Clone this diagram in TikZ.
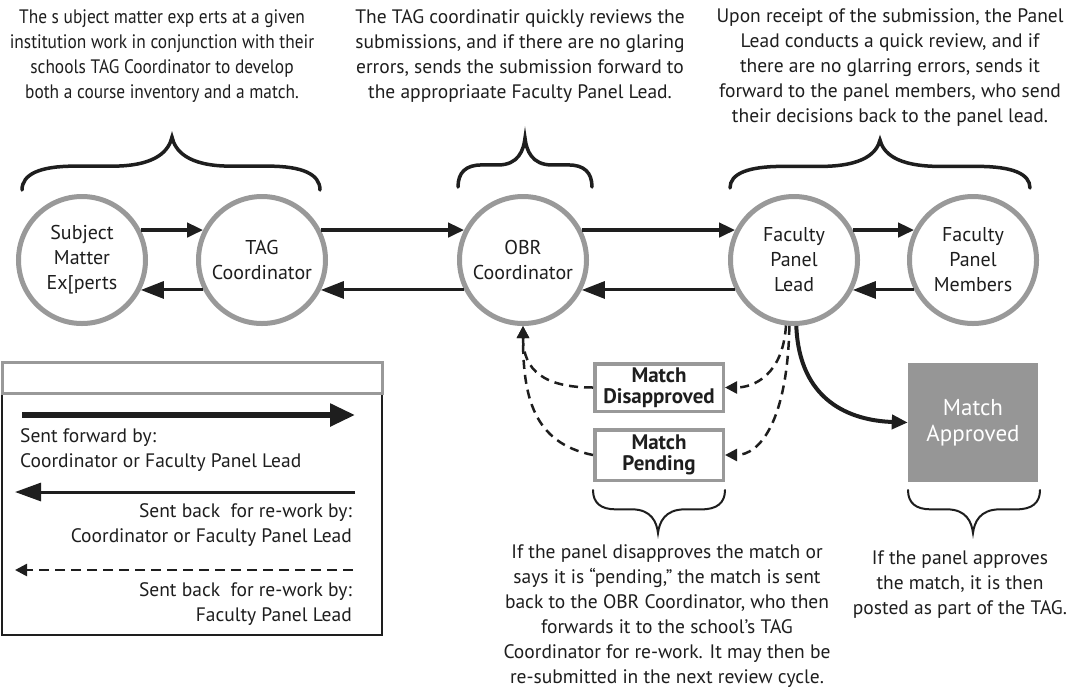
\documentclass[tikz,border=0pt]{standalone}
\usepackage{fontspec}
\setmainfont{PT Sans}
\newfontfamily\tightfont[FakeStretch=0.89]{PT Sans}
\usetikzlibrary{arrows.meta}

\definecolor{ringgray}{HTML}{999999}
\definecolor{boxgray}{HTML}{969696}
\definecolor{ink}{HTML}{1E1E1E}

% curly brace: #1 style, #2 left x, #3 tip x, #4 right x, #5 y of the ends, #6 y of the tip
\newcommand\curlybrace[6]{%
  \pgfmathsetmacro\bs{#6-#5}%
  \pgfmathsetmacro\bym{#5+0.45*\bs}%
  \pgfmathsetmacro\bwl{#3-#2}%
  \pgfmathsetmacro\bwr{#4-#3}%
  \draw[#1] (#2,#5)
    .. controls (#2,{#5+0.3*\bs}) and ({#2+0.12*\bwl},\bym) .. ({#2+0.35*\bwl},\bym)
    -- ({#3-0.4*\bwl},\bym)
    .. controls ({#3-0.1*\bwl},\bym) and ({#3-0.02*\bwl},{\bym+0.3*\bs}) .. (#3,#6)
    .. controls ({#3+0.02*\bwr},{\bym+0.3*\bs}) and ({#3+0.1*\bwr},\bym) .. ({#3+0.4*\bwr},\bym)
    -- ({#4-0.35*\bwr},\bym)
    .. controls ({#4-0.12*\bwr},\bym) and (#4,{#5+0.3*\bs}) .. (#4,#5);%
}

\tikzset{
  txt/.style={text=ink, align=center, inner sep=0pt, font=\fontsize{19.5}{25}\selectfont},
  actor/.style={circle, draw=ringgray, line width=5pt, minimum size=127pt, inner sep=0pt,
    text=ink, align=center, font=\fontsize{20}{25}\selectfont},
  result/.style={rectangle, draw=ringgray, line width=3.5pt, minimum width=128.5pt, inner sep=0pt,
    text=ink, align=center, font=\bfseries\fontsize{21}{20.5}\selectfont},
  approved/.style={rectangle, fill=boxgray, minimum width=130pt, minimum height=119pt, inner sep=0pt,
    text=white, align=center, font=\fontsize{23}{26}\selectfont},
  fwd/.style={draw=ink, line width=4.5pt, -{Triangle[length=16pt,width=14pt]}},
  back/.style={draw=ink, line width=3pt, -{Triangle[length=23pt,width=17pt]}},
  rework/.style={draw=ink, line width=2.5pt, dash pattern=on 9pt off 6pt, -{Triangle[length=12pt,width=12pt]}},
  topbrace/.style={draw=ink, line width=3.5pt, line cap=round},
  lowbrace/.style={draw=ink, line width=2pt, line cap=round},
  legendtxt/.style={text=ink, inner sep=0pt, font=\fontsize{19.5}{25}\selectfont},
}

\begin{document}
\begin{tikzpicture}[x=1pt, y=-1pt]
  \useasboundingbox (0,0) rectangle (1070,689);
  \fill[white] (0,0) rectangle (1070,689);

  % explanatory texts above the stages
  \node[txt, font=\tightfont\fontsize{19.5}{25}\selectfont] (t1) at (162,56) {The s ubject matter exp erts at a given\\institution work in conjunction with their\\schools TAG Coordinator to develop\\both a course inventory and a match.};
  \node[txt] (t2) at (520,56) {The TAG coordinatir quickly reviews the\\submissions, and if there are no glaring\\errors, sends the submission forward to\\the appropriaate Faculty Panel Lead.};
  \node[txt] (t3) at (890,68) {Upon receipt of the submission, the Panel\\Lead conducts a quick review, and if\\there are no glarring errors, sends it\\forward to the panel members, who send\\their decisions back to the panel lead.};

  % braces grouping the stages
  \curlybrace{topbrace}{22}{172}{320}{190}{137}
  \curlybrace{topbrace}{458}{525}{592}{187}{138}
  \curlybrace{topbrace}{730}{880}{1030}{188}{140}

  % actors
  \node[actor] (sme) at (82,260) {Subject\\Matter\\Ex[perts};
  \node[actor] (tag) at (262,260) {TAG\\Coordinator};
  \node[actor] (obr) at (523,260) {OBR\\Coordinator};
  \node[actor] (fpl) at (794,260) {Faculty\\Panel\\Lead};
  \node[actor] (fpm) at (973,260) {Faculty\\Panel\\Members};

  % outcomes
  \node[result, minimum height=47.5pt] (dis) at (659,387.5) {Match\\Disapproved};
  \node[result, minimum height=50.5pt] (pend) at (659,455) {Match\\Pending};
  \node[approved] (appr) at (973,422.5) {Match\\Approved};

  % forward flow
  \draw[fwd] (sme.27) -- (tag.153);
  \draw[fwd] (tag.27) -- (obr.153);
  \draw[fwd] (obr.27) -- (fpl.153);
  \draw[fwd] (fpl.27) -- (fpm.153);
  % sent back
  \draw[back] (tag.207) -- (sme.-27);
  \draw[back] (obr.207) -- (tag.-27);
  \draw[back] (fpl.207) -- (obr.-27);
  \draw[back] (fpm.207) -- (fpl.-27);

  % decisions of the panel lead
  \draw[fwd, line width=4pt] (fpl.-88) .. controls +(3,75) and +(-58,-2) .. (appr.west);
  \draw[rework] (fpl.-97) .. controls +(-3,50) and +(28,0) .. (dis.east);
  \draw[rework] (fpl.-94) .. controls +(-2,95) and +(35,0) .. (pend.east);
  \draw[rework] (dis.west) .. controls +(-48,0) and +(0,45) .. (obr.south);
  \draw[rework] (pend.west) .. controls +(-60,-12) and +(0,70) .. (obr.south);

  % braces below the outcomes
  \curlybrace{lowbrace}{593}{658}{725}{490}{533}
  \curlybrace{lowbrace}{908}{973}{1040}{490}{533}
  \node[txt] (t4) at (667,616) {If the panel disapproves the match or\\says it is “pending,” the match is sent\\back to the OBR Coordinator, who then\\forwards it to the school’s TAG\\Coordinator for re-work. It may then be\\re-submitted in the next review cycle.};
  \node[txt] (t5) at (960,585) {If the panel approves\\the match, it is then\\posted as part of the TAG.};

  % legend
  \draw[ink, line width=1.5pt] (2,393) rectangle (382,635);
  \draw[ringgray, line width=3pt] (2,362) rectangle (382,393);
  \coordinate (lf1) at (22,415);
  \coordinate (lf2) at (355,415);
  \coordinate (lb1) at (355,492);
  \coordinate (lb2) at (15,492);
  \coordinate (ld1) at (353,570);
  \coordinate (ld2) at (15,570);
  \draw[draw=ink, line width=5.5pt, -{Triangle[length=25pt,width=22pt]}] (lf1) -- (lf2);
  \draw[draw=ink, line width=3pt, -{Triangle[length=26pt,width=18pt]}] (lb1) -- (lb2);
  \draw[draw=ink, line width=2.5pt, dash pattern=on 10pt off 6pt, -{Triangle[length=12pt,width=12pt]}] (ld1) -- (ld2);
  \node[legendtxt, align=left, anchor=west] (l1) at (20,450) {Sent forward by:\\Coordinator or Faculty Panel Lead};
  \node[legendtxt, align=right, anchor=east] (l2) at (352,525) {Sent back~ for re-work by:\\Coordinator or Faculty Panel Lead};
  \node[legendtxt, align=right, anchor=east] (l3) at (352,604) {Sent back~ for re-work by:\\Faculty Panel Lead};
\end{tikzpicture}
\end{document}
